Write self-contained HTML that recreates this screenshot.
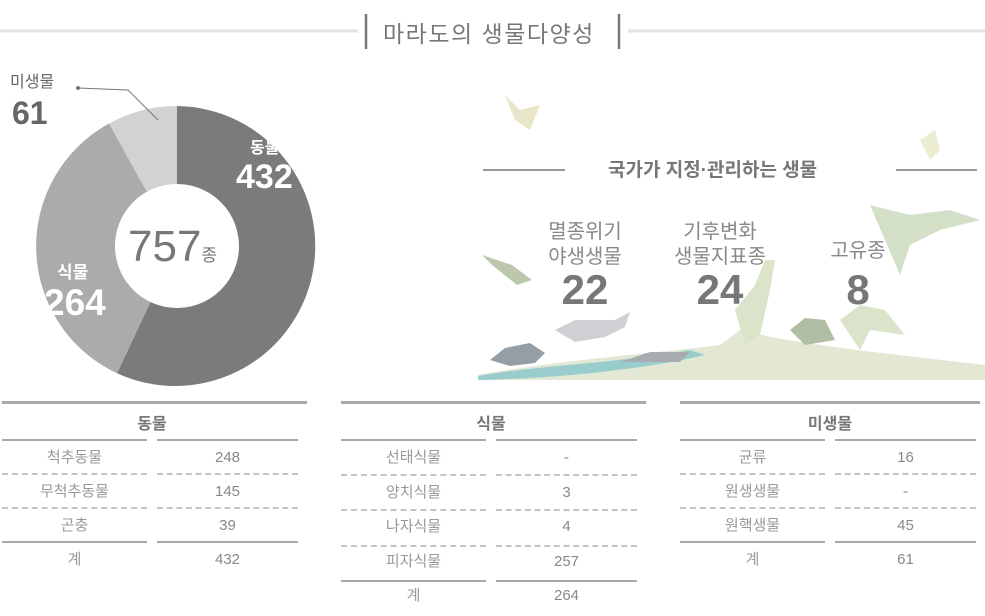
<!DOCTYPE html>
<html><head><meta charset="utf-8"><style>
body{margin:0;width:985px;height:616px;background:#fff;position:relative;overflow:hidden;font-family:"Liberation Sans","Noto Sans CJK KR",sans-serif;color:#777}
.a{position:absolute;white-space:nowrap}
.c{text-align:center}
.hl{position:absolute;height:2px;background:#a8a8a8}
.dl{position:absolute;height:0;border-top:2px dashed #c4c4c4}
</style></head><body>
<svg class="a" style="left:0;top:0" width="985" height="616">
<line x1="0" y1="31" x2="358" y2="31" stroke="#e2e2e2" stroke-width="3"/>
<line x1="628" y1="31" x2="985" y2="31" stroke="#e2e2e2" stroke-width="3"/>
<line x1="366" y1="14" x2="366" y2="49" stroke="#777" stroke-width="2.5"/>
<line x1="619" y1="14" x2="619" y2="49" stroke="#777" stroke-width="2.5"/>
<path d="M177,106 A140,140 0 1 1 117,373.3 L150.4,302 A62,62 0 1 0 177,184 Z" fill="#7b7b7d"/>
<path d="M117,373.3 A140,140 0 0 1 109.1,123.5 L146.9,191.8 A62,62 0 0 0 150.4,302 Z" fill="#ababac"/>
<path d="M109.1,123.5 A140,140 0 0 1 177,106 L177,184 A62,62 0 0 0 146.9,191.8 Z" fill="#d2d2d3"/>
<polyline points="78,88 128,90 158,120" fill="none" stroke="#777" stroke-width="1"/>
<circle cx="78" cy="88" r="2" fill="#777"/>
<g opacity="0.9">
<path d="M478,375 C560,360 640,355 720,345 L740,330 C800,345 900,355 985,365 L985,380 L478,380 Z" fill="#dfe6cf"/>
<path d="M478,376 C540,365 600,365 690,350 L705,355 C640,370 560,378 478,380 Z" fill="#8fc8c8"/>
<path d="M490,360 l15,-12 l25,-5 l15,10 l-10,10 l-25,3 Z" fill="#8a949c"/>
<path d="M555,330 l20,-10 l40,0 l15,-8 l-5,15 l-20,10 l-30,5 Z" fill="#c9cbcf"/>
<path d="M620,362 l30,-10 l40,0 l-10,10 Z" fill="#9ea4a8"/>
<path d="M505,95 l15,15 l20,-5 l-10,25 l-15,-10 Z" fill="#e6e3c2"/>
<path d="M482,255 l30,10 l20,15 l-15,5 l-25,-20 Z" fill="#b5c3a5"/>
<path d="M870,205 l40,10 l40,-5 l30,10 l-40,10 l-30,15 l-10,30 Z" fill="#cfdcc2"/>
<path d="M735,310 l20,-25 l10,-25 l10,0 l-5,30 l-10,45 l-15,10 Z" fill="#d7e2c5"/>
<path d="M790,330 l15,-12 l20,2 l10,20 l-30,5 Z" fill="#a7b79c"/>
<path d="M840,320 l20,-15 l25,5 l20,25 l-35,-5 l-10,20 Z" fill="#d7e2c5"/>
<path d="M920,140 l15,-10 l5,20 l-10,10 Z" fill="#ebeacb"/>
</g>
<line x1="483" y1="170" x2="565" y2="170" stroke="#999" stroke-width="2"/>
<line x1="896" y1="170" x2="977" y2="170" stroke="#999" stroke-width="2"/>
</svg>
<div class="a" style="left:383px;top:15px;font-size:23px;letter-spacing:1.5px;color:#777">마라도의 생물다양성</div>
<div class="a" style="left:10px;top:68px;font-size:16px;color:#666">미생물</div>
<div class="a" style="left:12px;top:95px;font-size:32px;font-weight:bold;color:#666">61</div>
<div class="a" style="left:250px;top:134px;font-size:16px;color:#fff;font-weight:bold">동물</div>
<div class="a" style="left:236px;top:158px;font-size:34px;font-weight:bold;color:#fff">432</div>
<div class="a" style="left:57px;top:258px;font-size:17px;color:#fff;font-weight:bold">식물</div>
<div class="a" style="left:44px;top:282px;font-size:37px;font-weight:bold;color:#fff">264</div>
<div class="a" style="left:128px;top:222px;font-size:44px;color:#777">757<span style="font-size:17px">종</span></div>
<div class="a" style="left:608px;top:155px;font-size:19px;font-weight:bold;color:#777">국가가 지정·관리하는 생물</div>
<div class="a c" style="left:525px;top:220px;width:120px;font-size:20px;line-height:25px;color:#888">멸종위기<br>야생생물</div>
<div class="a c" style="left:525px;top:266px;width:120px;font-size:42px;font-weight:bold;color:#777">22</div>
<div class="a c" style="left:660px;top:220px;width:120px;font-size:20px;line-height:25px;color:#888">기후변화<br>생물지표종</div>
<div class="a c" style="left:660px;top:266px;width:120px;font-size:42px;font-weight:bold;color:#777">24</div>
<div class="a c" style="left:798px;top:234px;width:120px;font-size:20px;color:#888">고유종</div>
<div class="a c" style="left:798px;top:266px;width:120px;font-size:42px;font-weight:bold;color:#777">8</div>

<div class="hl" style="left:2px;top:401px;width:305px;height:3px"></div>
<div class="hl" style="left:341px;top:401px;width:305px;height:3px"></div>
<div class="hl" style="left:680px;top:401px;width:300px;height:3px"></div>
<div class="a c" style="left:2px;top:410px;width:300px;font-size:16px;font-weight:bold;color:#777">동물</div>
<div class="a c" style="left:341px;top:410px;width:300px;font-size:16px;font-weight:bold;color:#777">식물</div>
<div class="a c" style="left:680px;top:410px;width:300px;font-size:16px;font-weight:bold;color:#777">미생물</div>

<div class="hl" style="left:2px;top:439px;width:145px"></div><div class="hl" style="left:157px;top:439px;width:141px"></div>
<div class="hl" style="left:341px;top:439px;width:145px"></div><div class="hl" style="left:496px;top:439px;width:141px"></div>
<div class="hl" style="left:680px;top:439px;width:145px"></div><div class="hl" style="left:835px;top:439px;width:141px"></div>

<div class="dl" style="left:2px;top:473px;width:145px"></div><div class="dl" style="left:157px;top:473px;width:141px"></div>
<div class="dl" style="left:2px;top:507px;width:145px"></div><div class="dl" style="left:157px;top:507px;width:141px"></div>
<div class="hl" style="left:2px;top:541px;width:145px"></div><div class="hl" style="left:157px;top:541px;width:141px"></div>

<div class="dl" style="left:341px;top:474px;width:145px"></div><div class="dl" style="left:496px;top:474px;width:141px"></div>
<div class="dl" style="left:341px;top:509px;width:145px"></div><div class="dl" style="left:496px;top:509px;width:141px"></div>
<div class="dl" style="left:341px;top:545px;width:145px"></div><div class="dl" style="left:496px;top:545px;width:141px"></div>
<div class="hl" style="left:341px;top:580px;width:145px"></div><div class="hl" style="left:496px;top:580px;width:141px"></div>

<div class="dl" style="left:680px;top:473px;width:145px"></div><div class="dl" style="left:835px;top:473px;width:141px"></div>
<div class="dl" style="left:680px;top:507px;width:145px"></div><div class="dl" style="left:835px;top:507px;width:141px"></div>
<div class="hl" style="left:680px;top:541px;width:145px"></div><div class="hl" style="left:835px;top:541px;width:141px"></div>

<div class="a c" style="left:2px;top:441px;width:145px;font-size:15px;line-height:34px;color:#999">척추동물<br>무척추동물<br>곤충<br>계</div>
<div class="a c" style="left:157px;top:441px;width:141px;font-size:15px;line-height:34px;color:#888">248<br>145<br>39<br>432</div>
<div class="a c" style="left:341px;top:441px;width:145px;font-size:15px;line-height:34.5px;color:#999">선태식물<br>양치식물<br>나자식물<br>피자식물<br>계</div>
<div class="a c" style="left:496px;top:441px;width:141px;font-size:15px;line-height:34.5px;color:#888">-<br>3<br>4<br>257<br>264</div>
<div class="a c" style="left:680px;top:441px;width:145px;font-size:15px;line-height:34px;color:#999">균류<br>원생생물<br>원핵생물<br>계</div>
<div class="a c" style="left:835px;top:441px;width:141px;font-size:15px;line-height:34px;color:#888">16<br>-<br>45<br>61</div>
</body></html>
